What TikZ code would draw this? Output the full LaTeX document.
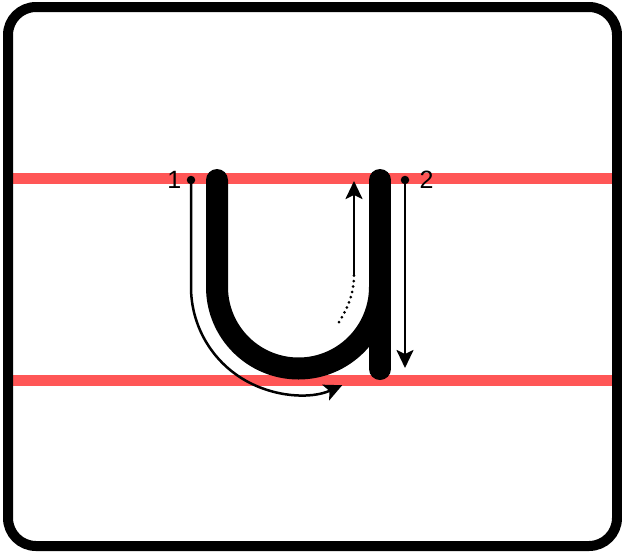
\documentclass[tikz,border=0pt]{standalone}
\usepackage{fontspec}
\setmainfont{Liberation Sans}
\usepackage{xcolor}
\usepackage{tikz}
\usetikzlibrary{arrows.meta, positioning}
\definecolor{redline}{HTML}{FF5656}

\begin{document}
\begin{tikzpicture}[x=1pt, y=-1pt,
    frame/.style={draw=black, line width=10pt, rounded corners=28pt},
    guide/.style={draw=redline, line width=11pt},
    letter/.style={line width=22pt, line cap=round},
    arr/.style={-{Stealth[length=18pt, width=17pt, inset=4pt]}, line width=2.5pt},
    trace/.style={line width=3pt, line cap=round, dash pattern=on 0pt off 5.5pt},
    startdot/.style={circle, fill=black, inner sep=0pt, minimum size=8.5pt},
    num/.style={font=\fontsize{25}{25}\selectfont, inner sep=0pt}
]
\useasboundingbox (0,0) rectangle (622,558);

% Guide lines
\draw[guide] (8,178.5) -- (617,178.5);
\draw[guide] (8,380) -- (617,380);

% Frame
\draw[frame] (8,7) rectangle (617,546);

% Letter u
\draw[letter] (217,180) -- (217,287) arc[start angle=180, end angle=0, radius=81.5];
\draw[letter] (380,180) -- (380,369);

% Stroke 1
\node[startdot] (dot1) at (191,180) {};
\node[num, left=5pt of dot1] (n1) {1};
\draw[arr] (dot1.center) -- (191,287) arc[start angle=180, end angle=66, radius=107.5];

\coordinate (up1) at (354,275);
\coordinate (up2) at (354,181);
\draw[trace] (339,322) .. controls (349,306) and (354,292) .. (up1);
\draw[arr] (up1) -- (up2);

% Stroke 2
\node[startdot] (dot2) at (405,180) {};
\node[num, right=10pt of dot2] (n2) {2};
\coordinate (end2) at (405,368);
\draw[arr] (dot2.center) -- (end2);
\end{tikzpicture}
\end{document}
